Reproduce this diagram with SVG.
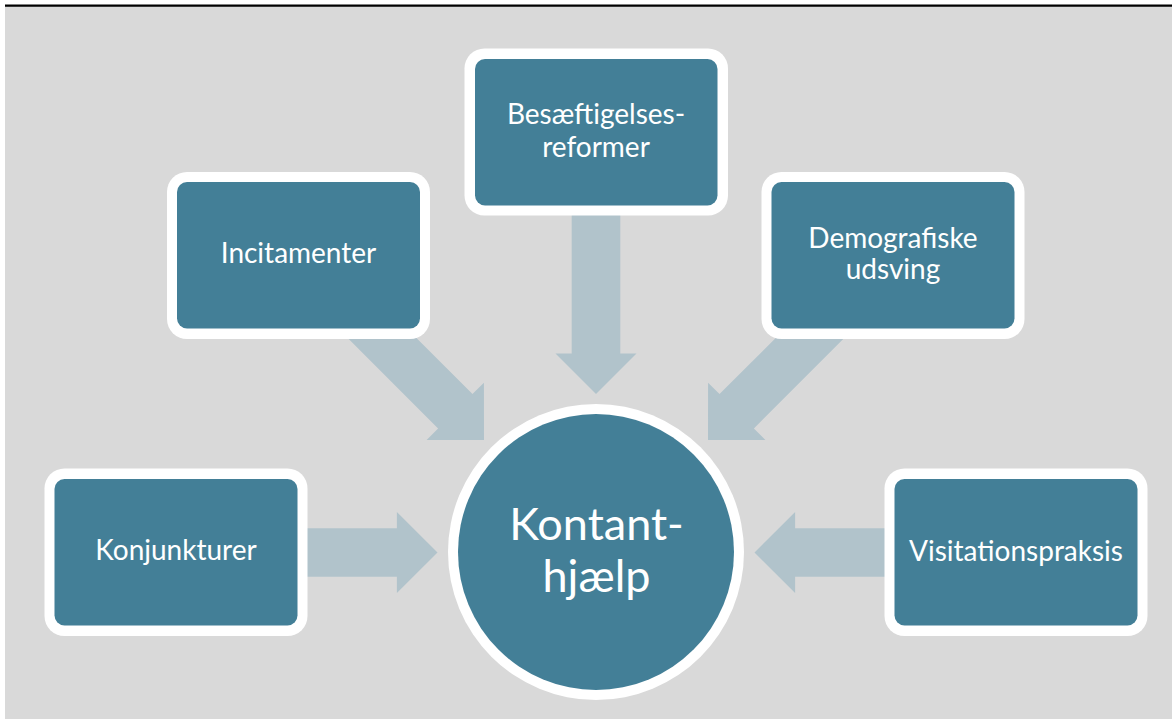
<svg xmlns="http://www.w3.org/2000/svg" width="1172" height="719" viewBox="0 0 1172 719">
  <style>
    .frame { fill: #ffffff; }
    .box { fill: #437F97; }
    .flow { fill: #B1C3CB; }
    .label { font-family: Lato, "Open Sans", "Liberation Sans", sans-serif; fill: #ffffff; text-anchor: middle; font-size: 28px; }
    .hub { font-size: 45px; }
  </style>
  <defs>
    <!-- block arrow with its tip at the origin, pointing along +x -->
    <path id="blockArrow" d="M0,0 L-40.6,-40.5 L-40.6,-24.3 L-190,-24.3 L-190,24.3 L-40.6,24.3 L-40.6,40.5 Z"/>
  </defs>

  <rect x="0" y="0" width="1172" height="719" fill="#ffffff"/>
  <rect x="5" y="6" width="1167" height="713" fill="#D9D9D9"/>
  <line x1="5" y1="5.7" x2="1172" y2="5.7" stroke="#000000" stroke-width="2.2"/>

  <g id="connectors">
    <use href="#blockArrow" class="flow" transform="translate(484,440) rotate(45)"/>
    <use href="#blockArrow" class="flow" transform="translate(596,394) rotate(90)"/>
    <use href="#blockArrow" class="flow" transform="translate(708,440) rotate(135)"/>
    <use href="#blockArrow" class="flow" transform="translate(437.5,552.5)"/>
    <use href="#blockArrow" class="flow" transform="translate(754.5,552.5) rotate(180)"/>
  </g>

  <g id="node-incitamenter">
    <rect class="frame" x="167" y="172" width="263" height="167" rx="20"/>
    <rect class="box" x="177" y="182" width="243" height="146.5" rx="10"/>
    <text class="label" x="298.5" y="263">Incitamenter</text>
  </g>

  <g id="node-beskaeftigelsesreformer">
    <rect class="frame" x="464.5" y="48.5" width="263.5" height="167" rx="20"/>
    <rect class="box" x="475" y="59" width="242.5" height="146.5" rx="10"/>
    <text class="label" x="596" y="124.3">Besæftigelses-</text>
    <text class="label" x="596" y="156.7">reformer</text>
  </g>

  <g id="node-demografiske">
    <rect class="frame" x="761.5" y="172" width="263" height="167" rx="20"/>
    <rect class="box" x="771.5" y="182" width="243" height="146.5" rx="10"/>
    <text class="label" x="893" y="247.7">Demografiske</text>
    <text class="label" x="893" y="279">udsving</text>
  </g>

  <g id="node-konjunkturer">
    <rect class="frame" x="44.5" y="468.5" width="263" height="167.5" rx="20"/>
    <rect class="box" x="54.5" y="479" width="243" height="146.5" rx="10"/>
    <text class="label" x="176" y="560">Konjunkturer</text>
  </g>

  <g id="node-visitationspraksis">
    <rect class="frame" x="884.5" y="468.5" width="263" height="167.5" rx="20"/>
    <rect class="box" x="894.5" y="479" width="243" height="146.5" rx="10"/>
    <text class="label" x="1016" y="560.7">Visitationspraksis</text>
  </g>

  <g id="node-kontanthjaelp">
    <circle class="frame" cx="596" cy="552" r="148"/>
    <circle class="box" cx="596" cy="552" r="138"/>
    <text class="label hub" x="596.5" y="540">Kontant-</text>
    <text class="label hub" x="596.5" y="591.7">hjælp</text>
  </g>
</svg>
